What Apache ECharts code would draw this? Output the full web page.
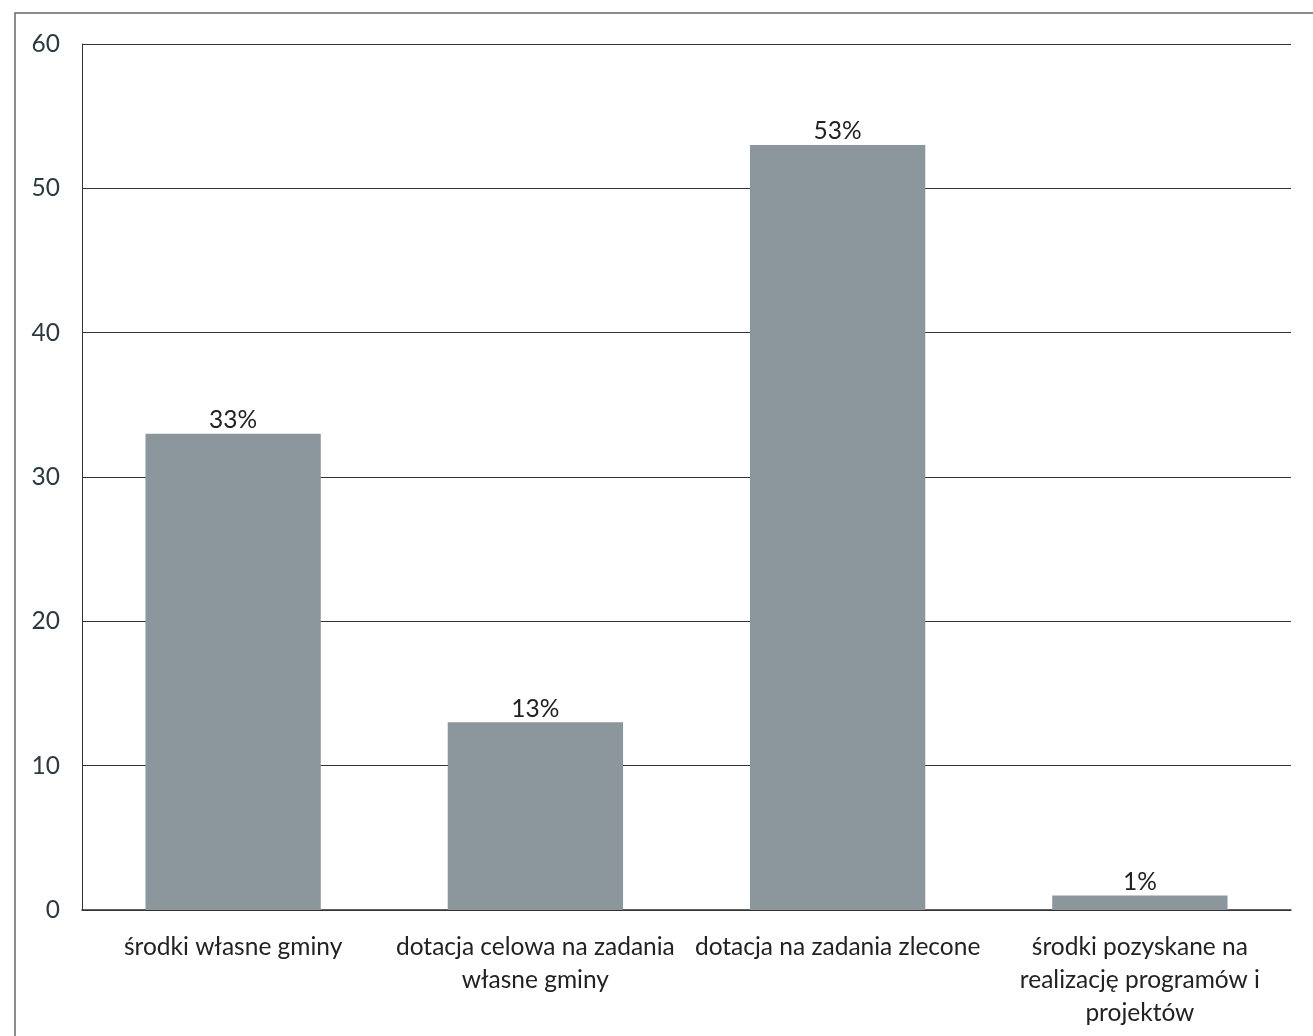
<!DOCTYPE html>
<html><head><meta charset="utf-8">
<script src="https://cdn.jsdelivr.net/npm/echarts@6/dist/echarts.min.js"></script>
<style>html,body{margin:0;padding:0;background:#fff}#c{width:1313px;height:1036px}</style>
</head><body><div id="c"></div>
<script>
const categories = [
  'środki własne gminy',
  'dotacja celowa na zadania\nwłasne gminy',
  'dotacja na zadania zlecone',
  'środki pozyskane na\nrealizację programów i\nprojektów'
];
const values = [33, 13, 53, 1];
const yTicks = [0, 10, 20, 30, 40, 50, 60];

const chart = echarts.init(document.getElementById('c'));
const FONT = 'Lato';
chart.setOption({
  animation: false,
  backgroundColor: '#fff',
  graphic: [{
    type: 'rect', silent: true, z: -1,
    shape: { x: 15, y: 13, width: 1400, height: 1100 },
    style: { fill: 'none', stroke: '#666', lineWidth: 1.5 }
  }],
  grid: { left: 82, right: 22, top: 44, bottom: 126, containLabel: false },
  xAxis: {
    type: 'category',
    data: categories,
    axisLine: { show: true, lineStyle: { color: '#333', width: 1.5 } },
    axisTick: { show: false },
    axisLabel: { fontFamily: FONT, fontSize: 24.5, color: '#222', margin: 21, lineHeight: 33, interval: 0 }
  },
  yAxis: {
    type: 'value',
    min: yTicks[0], max: yTicks[yTicks.length - 1], interval: 10,
    axisLine: { show: true, lineStyle: { color: '#333', width: 1 } },
    axisTick: { show: false },
    axisLabel: { fontFamily: FONT, fontSize: 24.5, color: '#2b3a40', margin: 22 },
    splitLine: { lineStyle: { color: '#333', width: 1.2 } }
  },
  series: [{
    type: 'bar',
    data: values,
    barWidth: '58%',
    itemStyle: { color: '#8c979d' },
    label: {
      show: true, position: 'top', distance: 1,
      formatter: '{c}%', fontFamily: FONT, fontSize: 24.5, color: '#222'
    }
  }]
});
</script></body></html>
